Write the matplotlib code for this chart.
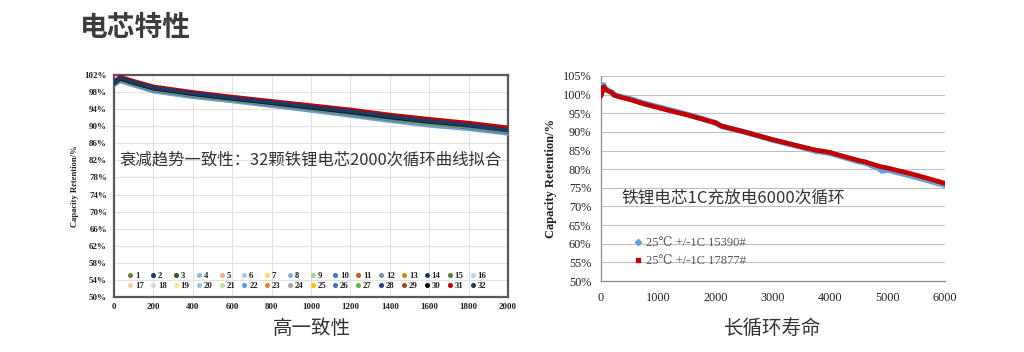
import matplotlib
matplotlib.use("Agg")
import matplotlib.pyplot as plt
from matplotlib.lines import Line2D
from matplotlib.ticker import FuncFormatter

# ---------------- data: 32 cells, 2000 cycles ----------------
cycles_2000 = [0, 30, 100, 200, 400, 600, 800, 1000, 1200, 1400, 1600, 1800, 2000]
cell_names = [str(i) for i in range(1, 33)]
cell_colors = ["#6b7a3a", "#1f3864", "#375623", "#8eb4e3", "#f4b183", "#b4c7e7",
               "#ffd966", "#8faadc", "#a9d18e", "#4472c4", "#c55a11", "#7f8fa6",
               "#bf9000", "#203864", "#548235", "#bdd7ee", "#f8cbad", "#d9d9d9",
               "#ffe699", "#9dc3e6", "#c5e0b4", "#5b9bd5", "#ed7d31", "#a5a5a5",
               "#ffc000", "#4472c4", "#70ad47", "#264478", "#9e480e", "#000000",
               "#c00000", "#203864"]
cell_retention = [
    [100.0, 101.0, 100.0, 98.7, 97.4, 96.3, 95.3, 94.2, 93.1, 91.9, 90.9, 90.0, 88.9],
    [100.0, 101.1, 100.1, 98.8, 97.5, 96.4, 95.4, 94.3, 93.2, 92.0, 91.0, 90.1, 89.0],
    [99.9, 101.0, 100.0, 98.6, 97.3, 96.3, 95.2, 94.2, 93.1, 91.9, 90.8, 90.0, 88.9],
    [99.6, 100.6, 99.6, 98.2, 96.9, 95.9, 94.8, 93.7, 92.5, 91.3, 90.2, 89.4, 88.3],
    [99.9, 100.9, 99.9, 98.6, 97.3, 96.2, 95.2, 94.1, 93.0, 91.8, 90.7, 89.9, 88.8],
    [99.7, 100.6, 99.6, 98.2, 96.9, 95.9, 94.8, 93.7, 92.6, 91.4, 90.3, 89.5, 88.4],
    [100.0, 101.0, 100.0, 98.7, 97.4, 96.3, 95.3, 94.2, 93.1, 91.9, 90.9, 90.0, 88.9],
    [99.7, 100.7, 99.7, 98.3, 97.0, 96.0, 94.9, 93.9, 92.7, 91.5, 90.4, 89.6, 88.5],
    [99.8, 100.8, 99.8, 98.5, 97.2, 96.1, 95.1, 94.0, 92.9, 91.7, 90.6, 89.8, 88.7],
    [99.9, 100.9, 99.9, 98.6, 97.3, 96.2, 95.2, 94.1, 93.0, 91.8, 90.7, 89.9, 88.8],
    [100.1, 101.3, 100.3, 98.9, 97.6, 96.6, 95.5, 94.5, 93.5, 92.3, 91.2, 90.4, 89.3],
    [99.8, 100.8, 99.8, 98.5, 97.2, 96.1, 95.1, 94.0, 92.9, 91.7, 90.6, 89.8, 88.7],
    [100.0, 101.1, 100.1, 98.8, 97.5, 96.4, 95.4, 94.3, 93.2, 92.0, 91.0, 90.1, 89.0],
    [100.0, 101.0, 100.0, 98.7, 97.4, 96.3, 95.3, 94.2, 93.1, 91.9, 90.9, 90.0, 88.9],
    [99.9, 100.9, 99.9, 98.6, 97.3, 96.2, 95.2, 94.1, 93.0, 91.8, 90.7, 89.9, 88.8],
    [99.6, 100.5, 99.5, 98.1, 96.8, 95.8, 94.7, 93.6, 92.4, 91.2, 90.1, 89.3, 88.2],
    [99.85, 100.9, 99.9, 98.5, 97.2, 96.2, 95.1, 94.1, 92.9, 91.7, 90.7, 89.8, 88.7],
    [99.7, 100.7, 99.7, 98.3, 97.0, 95.9, 94.9, 93.8, 92.6, 91.4, 90.3, 89.5, 88.4],
    [99.9, 101.0, 100.0, 98.6, 97.3, 96.3, 95.2, 94.2, 93.1, 91.9, 90.8, 90.0, 88.9],
    [99.65, 100.55, 99.55, 98.15, 96.85, 95.85, 94.75, 93.65, 92.45, 91.25, 90.15, 89.35, 88.25],
    [100.0, 101.0, 100.0, 98.7, 97.4, 96.3, 95.3, 94.2, 93.1, 91.9, 90.9, 90.0, 88.9],
    [99.6, 100.6, 99.6, 98.2, 96.9, 95.9, 94.8, 93.7, 92.5, 91.3, 90.2, 89.4, 88.3],
    [100.05, 101.2, 100.2, 98.9, 97.6, 96.5, 95.5, 94.4, 93.4, 92.2, 91.1, 90.3, 89.2],
    [99.7, 100.7, 99.7, 98.3, 97.0, 96.0, 94.9, 93.9, 92.7, 91.5, 90.4, 89.6, 88.5],
    [100.0, 101.0, 100.0, 98.7, 97.4, 96.3, 95.3, 94.2, 93.1, 91.9, 90.9, 90.0, 88.9],
    [99.75, 100.8, 99.8, 98.4, 97.1, 96.1, 95.0, 94.0, 92.8, 91.6, 90.6, 89.7, 88.6],
    [99.9, 100.9, 99.9, 98.6, 97.3, 96.2, 95.2, 94.1, 93.0, 91.8, 90.7, 89.9, 88.8],
    [100.0, 101.1, 100.1, 98.8, 97.5, 96.4, 95.4, 94.3, 93.2, 92.0, 91.0, 90.1, 89.0],
    [100.2, 101.4, 100.4, 99.1, 97.8, 96.7, 95.7, 94.6, 93.6, 92.4, 91.4, 90.5, 89.4],
    [100.05, 101.2, 100.2, 98.9, 97.6, 96.5, 95.5, 94.4, 93.4, 92.2, 91.1, 90.3, 89.2],
    [100.3, 101.6, 100.6, 99.3, 98.0, 96.9, 95.9, 94.9, 93.9, 92.7, 91.7, 90.8, 89.7],
    [100.1, 101.3, 100.3, 99.0, 97.7, 96.6, 95.6, 94.5, 93.5, 92.3, 91.2, 90.3, 89.1],
]

# ---------------- data: 6000 cycles, two cells ----------------
cycles_6000 = [0, 5, 10, 20, 30, 50, 70, 100, 150, 200, 220, 300, 500, 750, 1000,
               1250, 1500, 1750, 1950, 2000, 2100, 2500, 3000, 3500, 3750, 3850,
               3950, 4000, 4100, 4500, 4600, 4850, 4900, 5000, 5400, 5500, 6000]
cell_15390 = [100.0, 101.8, 100.4, 102.0, 101.2, 102.6, 101.6, 101.4, 100.9, 100.6,
              100.1, 99.6, 98.9, 97.7, 96.7, 95.7, 94.7, 93.6, 92.7, 92.3, 91.5,
              90.0, 87.8, 85.9, 84.8, 84.6, 84.4, 84.2, 83.8, 82.0, 81.7, 80.2,
              79.5, 79.8, 78.2, 77.8, 75.7]
cell_17877 = [99.6, 101.5, 100.2, 101.8, 101.0, 102.1, 101.4, 101.2, 100.8, 100.4,
              99.9, 99.5, 98.7, 97.5, 96.5, 95.5, 94.6, 93.5, 92.6, 92.5, 91.6,
              90.0, 87.9, 86.0, 85.1, 84.9, 84.6, 84.5, 84.0, 82.3, 82.0, 80.8,
              80.6, 80.3, 78.8, 78.4, 76.2]
legend_6000 = ["25\u2103 +/-1C 15390#", "25\u2103 +/-1C 17877#"]

x_ticks_2000 = list(range(0, 2001, 200))
y_ticks_2000 = list(range(50, 103, 4))
x_ticks_6000 = list(range(0, 6001, 1000))
y_ticks_6000 = list(range(50, 106, 5))

CJK = ["Noto Sans CJK SC", "DejaVu Sans"]
SERIF = ["Liberation Serif", "DejaVu Serif", "DejaVu Sans"]

fig = plt.figure(figsize=(10.24, 3.52), dpi=100)
fig.patch.set_facecolor("white")

pct = FuncFormatter(lambda v, p: f"{v:.0f}%")

# ---------------- left chart ----------------
ax1 = fig.add_axes([0.1113, 0.1563, 0.3848, 0.6307])
for name, col, vals in zip(cell_names, cell_colors, cell_retention):
    ax1.plot(cycles_2000, vals, color=col, lw=2.8, solid_capstyle="round", zorder=3)
ax1.set_xlim(0, 2000)
ax1.set_ylim(50, 102)
ax1.set_xticks(x_ticks_2000)
ax1.set_yticks(y_ticks_2000)
ax1.yaxis.set_major_formatter(pct)
ax1.grid(True, color="#e2e2e2", lw=0.8, zorder=0)
ax1.set_axisbelow(True)
for s in ax1.spines.values():
    s.set_color("#595959")
    s.set_linewidth(1.6)
ax1.tick_params(length=0, pad=4, labelsize=6.5)
ax1.tick_params(axis="y", pad=5)
for lab in ax1.get_xticklabels() + ax1.get_yticklabels():
    lab.set_family(SERIF)
    lab.set_fontweight("bold")
    lab.set_color("#222222")
ax1.set_ylabel("Capacity Retention/%", family=SERIF, fontweight="bold",
               fontsize=6.2, labelpad=4, color="#222222")

handles = [Line2D([], [], ls="none", marker="o", ms=2.6, color=c) for c in cell_colors]
order = []
for i in range(16):
    order += [i, i + 16]
leg1 = ax1.legend([handles[i] for i in order], [cell_names[i] for i in order],
                  ncol=16, loc="lower center", bbox_to_anchor=(0.49, 0.0),
                  frameon=False, handlelength=0.5, handletextpad=0.3,
                  columnspacing=0.8, labelspacing=0.22, borderaxespad=0.35,
                  prop={"family": SERIF, "weight": "bold", "size": 6.3})
for t in leg1.get_texts():
    t.set_color("#222222")

ax1.text(0.015, 0.617, "衰减趋势一致性：32颗铁锂电芯2000次循环曲线拟合",
         transform=ax1.transAxes, family=CJK, fontsize=11.8, color="#333333",
         ha="left", va="center")

# ---------------- right chart ----------------
ax2 = fig.add_axes([0.5869, 0.2017, 0.3359, 0.5824])
ax2.plot(cycles_6000, cell_15390, color="#6a9fd8", lw=4.0, zorder=3,
         solid_capstyle="round")
ax2.plot(cycles_6000, cell_17877, color="#c00000", lw=3.4, zorder=4,
         solid_capstyle="round")
ax2.set_xlim(0, 6000)
ax2.set_ylim(50, 105)
ax2.set_xticks(x_ticks_6000)
ax2.set_yticks(y_ticks_6000)
ax2.yaxis.set_major_formatter(pct)
ax2.grid(True, axis="y", color="#bfbfbf", lw=0.8, zorder=0)
ax2.set_axisbelow(True)
for k in ("top", "right"):
    ax2.spines[k].set_visible(False)
for k in ("left", "bottom"):
    ax2.spines[k].set_color("#8c8c8c")
    ax2.spines[k].set_linewidth(0.9)
ax2.tick_params(length=0, labelsize=8.8)
ax2.tick_params(axis="x", pad=8)
ax2.tick_params(axis="y", pad=7)
for lab in ax2.get_xticklabels() + ax2.get_yticklabels():
    lab.set_family(SERIF)
    lab.set_color("#222222")
ax2.set_ylabel("Capacity Retention/%", family=SERIF, fontweight="bold",
               fontsize=9, labelpad=4, color="#222222")

h2 = [Line2D([], [], ls="none", marker="D", ms=3.2, color="#6a9fd8"),
      Line2D([], [], ls="none", marker="s", ms=3.2, color="#c00000")]
leg2 = ax2.legend(h2, legend_6000, loc="center left", bbox_to_anchor=(0.065, 0.14),
                  frameon=False, handlelength=0.6, handletextpad=0.35,
                  labelspacing=0.45, prop={"family": SERIF, "size": 9})
for t in leg2.get_texts():
    t.set_color("#5a5a5a")

ax2.text(0.061, 0.405, "铁锂电芯1C充放电6000次循环", transform=ax2.transAxes,
         family=CJK, fontsize=12, color="#333333", ha="left", va="center", zorder=6)

# ---------------- headings ----------------
fig.text(0.078, 0.920, "电芯特性", family=CJK, fontsize=20, fontweight="bold",
         color="#3c3c3c", ha="left", va="center")
fig.text(0.3047, 0.068, "高一致性", family=CJK, fontsize=14, color="#333333",
         ha="center", va="center")
fig.text(0.755, 0.068, "长循环寿命", family=CJK, fontsize=14, color="#333333",
         ha="center", va="center")

fig.savefig("out.png", dpi=100, facecolor="white")
